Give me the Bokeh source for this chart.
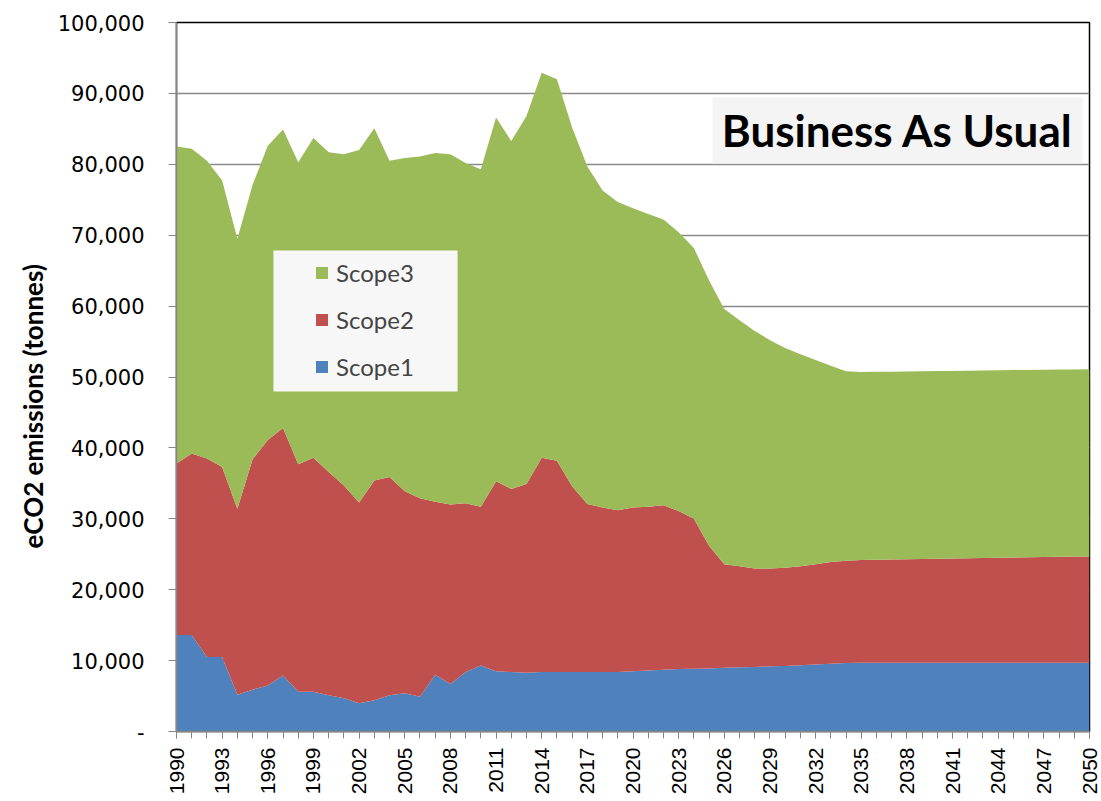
from bokeh.plotting import figure
from bokeh.models import (ColumnDataSource, Range1d, FixedTicker, NumeralTickFormatter,
                          Legend, LegendItem, BoxAnnotation, Label, Title)
from bokeh.embed import file_html
from bokeh.resources import INLINE
import math

years = list(range(1990, 2051))

scope1 = [13600, 13600, 10500, 10500, 5200, 5900, 6500, 7900, 5600, 5600,
          5100, 4700, 4000, 4400, 5100, 5400, 4900, 8000, 6700, 8400,
          9300, 8500, 8400, 8300, 8400, 8400, 8400, 8400, 8400, 8400,
          8500, 8600, 8700, 8800, 8850, 8900, 9000, 9050, 9100, 9200,
          9250, 9350, 9450, 9550, 9650, 9700, 9700, 9700, 9700, 9700,
          9700, 9700, 9700, 9700, 9700, 9700, 9700, 9700, 9700, 9700, 9700]

scope2 = [24200, 25600, 28000, 26800, 26200, 32500, 34600, 34900, 32100, 33000,
          31500, 30000, 28300, 31000, 30800, 28500, 28000, 24400, 25300, 23800,
          22400, 26800, 25800, 26600, 30200, 29800, 26200, 23700, 23200, 22800,
          23100, 23100, 23200, 22300, 21150, 17300, 14600, 14250, 13900, 13800,
          13850, 13950, 14150, 14350, 14450, 14500, 14530, 14570, 14600, 14630,
          14670, 14700, 14730, 14770, 14800, 14830, 14870, 14900, 14930, 14970, 15000]

scope3 = [44700, 43000, 42000, 40400, 38100, 38700, 41500, 42100, 42600, 45100,
          45100, 46700, 49700, 49700, 44600, 47000, 48200, 49200, 49400, 48000,
          47600, 51300, 49100, 51900, 54300, 53800, 50600, 47600, 44700, 43500,
          42200, 41300, 40300, 39300, 38200, 37400, 36000, 34700, 33500, 32200,
          31000, 29900, 28800, 27700, 26700, 26500, 26500, 26480, 26480, 26480,
          26460, 26460, 26460, 26440, 26440, 26440, 26420, 26420, 26420, 26400, 26400]

series_names = ["Scope1", "Scope2", "Scope3"]
colors = ["#4F81BD", "#C0504D", "#9BBB59"]
x_tick_labels = list(range(1990, 2051, 3))
y_ticks = list(range(0, 100001, 10000))

source = ColumnDataSource(dict(year=years, Scope1=scope1, Scope2=scope2, Scope3=scope3))

p = figure(width=1100, height=800, output_backend="svg", toolbar_location=None,
           x_range=Range1d(1990, 2050), y_range=Range1d(0, 100000),
           min_border_left=176, min_border_right=11, min_border_top=22, min_border_bottom=69)

renderers = p.varea_stack(series_names, x="year", color=colors, source=source)

# grid
p.xgrid.visible = False
p.ygrid.ticker = FixedTicker(ticks=y_ticks)
p.ygrid.grid_line_color = "#8a8a8a"
p.ygrid.grid_line_width = 1.5
p.ygrid.level = "underlay"

p.outline_line_color = "black"
p.outline_line_width = 1.5
p.background_fill_color = "white"
p.border_fill_color = "white"

# y axis
p.yaxis.ticker = FixedTicker(ticks=y_ticks)
p.yaxis.formatter = NumeralTickFormatter(format="0,0")
p.yaxis.major_label_overrides = {0: "-"}
p.yaxis.major_label_text_font = "DejaVu Sans"
p.yaxis.major_label_text_font_size = "21px"
p.yaxis.major_label_text_color = "black"
p.yaxis.axis_line_color = "#868686"
p.yaxis.axis_line_width = 1.5
p.yaxis.major_tick_line_color = "#868686"
p.yaxis.major_tick_in = 0
p.yaxis.major_tick_out = 8
p.yaxis.minor_tick_line_color = None
p.yaxis.major_label_standoff = 24

# x axis
p.xaxis.ticker = FixedTicker(ticks=x_tick_labels, minor_ticks=years)
p.xaxis.major_label_orientation = math.pi / 2
p.xaxis.major_label_text_font = "Liberation Sans"
p.xaxis.major_label_text_font_size = "21px"
p.xaxis.major_label_text_color = "black"
p.xaxis.axis_line_color = "#868686"
p.xaxis.axis_line_width = 1.5
p.xaxis.major_tick_line_color = "#868686"
p.xaxis.minor_tick_line_color = "#868686"
p.xaxis.major_tick_in = 0
p.xaxis.major_tick_out = 7
p.xaxis.minor_tick_in = 0
p.xaxis.minor_tick_out = 7
p.xaxis.major_label_standoff = 9

# y axis title
p.add_layout(Title(text="eCO2 emissions (tonnes)", align="left", offset=183, standoff=12,
                   text_font="Lato", text_font_style="bold", text_font_size="26px",
                   text_color="black"), "left")

# title box
p.add_layout(BoxAnnotation(left=2025.22, right=2049.54, bottom=80113, top=89422,
                           fill_color="#f4f4f4", fill_alpha=1, line_color=None))
p.add_layout(Label(x=2037.38, y=84770, text="Business As Usual",
                   text_font="Lato", text_font_style="bold", text_font_size="44px",
                   text_align="center", text_baseline="middle", text_color="black"))

# legend box
p.add_layout(BoxAnnotation(left=1996.37, right=2008.47, bottom=47950, top=67840,
                           fill_color="#f7f7f7", fill_alpha=1, line_color=None))
items = [LegendItem(label=series_names[i], renderers=[renderers[i]]) for i in (2, 1, 0)]
legend = Legend(items=items, location=(138, 350), background_fill_alpha=0,
                border_line_color=None, padding=10, margin=0, spacing=18,
                glyph_width=15, glyph_height=15, label_standoff=7,
                label_text_font="Lato", label_text_font_size="24px", label_height=24)
p.add_layout(legend, "center")

open("out.html", "w").write(file_html(p, INLINE))
